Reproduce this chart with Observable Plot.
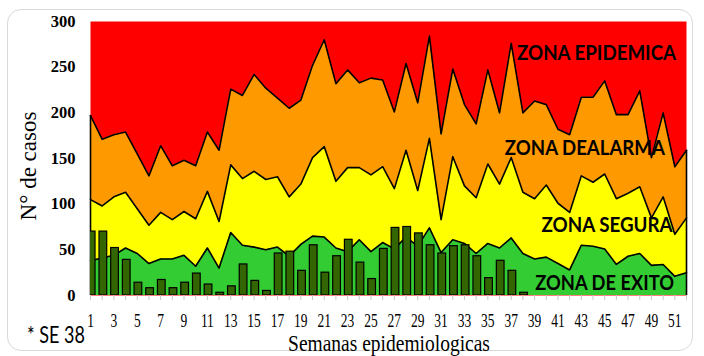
<!DOCTYPE html>
<html><head><meta charset="utf-8">
<script src="https://cdn.jsdelivr.net/npm/d3@7"></script>
<script src="https://cdn.jsdelivr.net/npm/@observablehq/plot@0.6"></script>
<style>
body{margin:0;background:#fff;}
#wrap{position:relative;width:704px;height:356px;overflow:hidden;background:#fff;}
#border{position:absolute;left:7px;top:9px;width:686px;height:342px;border:1.5px solid #d9d9d9;border-radius:14px;box-sizing:border-box;}
#ylab{position:absolute;left:29px;top:166px;transform:translate(-50%,-50%) rotate(-90deg);white-space:nowrap;font:23px "Liberation Serif",serif;color:#000;}
#wrap svg{position:absolute;left:0;top:0;}
</style></head><body><div id="wrap"><div id="border"></div><div id="ylab">N° de casos</div></div>
<script>
const weeks = [1,2,3,4,5,6,7,8,9,10,11,12,13,14,15,16,17,18,19,20,21,22,23,24,25,26,27,28,29,30,31,32,33,34,35,36,37,38,39,40,41,42,43,44,45,46,47,48,49,50,51,52];
const xTickLabels = [1,3,5,7,9,11,13,15,17,19,21,23,25,27,29,31,33,35,37,39,41,43,45,47,49,51];
const yTickLabels = [0,50,100,150,200,250,300];
// upper limit of "zona de alarma"
const alarma = [197,171,176,179,155,131,164,142,148,142,179,159,226,219,242,227,216,205,214,252,280,232,247,233,238,236,201,254,211,284,177,248,209,188,247,200,276,200,213,209,182,176,217,217,235,198,198,224,151,200,141,159];
// upper limit of "zona segura"
const segura = [105,98,108,113,95,77,91,83,92,84,114,81,143,128,136,127,130,108,122,151,163,125,140,140,132,141,117,159,115,172,83,152,120,107,144,122,151,113,106,121,101,91,131,124,133,106,112,119,85,108,67,85];
// upper limit of "zona de exito"
const exito = [38,41,44,52,46,35,40,40,44,32,52,30,69,55,53,50,53,43,56,65,64,52,48,61,48,58,51,64,54,74,47,61,57,46,57,52,63,46,40,42,35,28,55,54,51,34,43,46,33,34,21,25];
// observed cases up to SE 38
const casos = [70,70,52,39,14,8,17,8,14,24,12,3,10,34,16,5,46,48,27,55,25,43,61,36,18,51,74,75,68,55,46,54,55,43,19,38,27,3];
const zoneLabels = ["ZONA EPIDEMICA","ZONA DEALARMA","ZONA SEGURA","ZONA DE EXITO"];
const zoneWeek = [44.3,43.3,45.2,45];
const zoneValue = [265.5,161,76.6,13.7];
const zoneTextWidth = [159,160,131,139];

const rows = weeks.map((w,i)=>({week:w, alarma:alarma[i], segura:segura[i], exito:exito[i]}));
const caseRows = casos.map((c,i)=>({week:weeks[i], casos:c}));
const zones = zoneLabels.map((l,i)=>({label:l, week:zoneWeek[i], value:zoneValue[i]}));
const edges = [rows[0], rows[rows.length-1]];

const plot = Plot.plot({
  width:704, height:356,
  marginLeft:90, marginRight:18, marginTop:21, marginBottom:61,
  x:{domain:[1,52], label:null},
  y:{domain:[0,300], label:null},
  style:{background:"transparent", overflow:"visible"},
  marks:[
    Plot.frame({fill:"#FF0000"}),
    Plot.areaY(rows,{x:"week", y:"alarma", fill:"#FF9900"}),
    Plot.areaY(rows,{x:"week", y:"segura", fill:"#FFFF00"}),
    Plot.areaY(rows,{x:"week", y:"exito", fill:"#33CC33"}),
    Plot.lineY(rows,{x:"week", y:"alarma", stroke:"#000", strokeWidth:1.6}),
    Plot.lineY(rows,{x:"week", y:"segura", stroke:"#000", strokeWidth:1.6}),
    Plot.lineY(rows,{x:"week", y:"exito", stroke:"#000", strokeWidth:1.6}),
    Plot.ruleX(edges,{x:"week", y1:0, y2:"alarma", stroke:"#000", strokeWidth:1.6}),
    Plot.rectY(caseRows,{x1:d=>d.week-0.23, x2:d=>d.week+0.43, y1:0, y2:"casos", fill:"#336600", stroke:"#000", strokeWidth:1.2, clip:true}),
    Plot.axisY({ticks:yTickLabels, tickSize:0, tickPadding:15, fontWeight:"bold", fontSize:16.5, fontFamily:"Liberation Serif", label:null}),
    Plot.axisX({ticks:weeks, tickSize:5, tickFormat:()=>"", stroke:"#c8c8c8", label:null}),
    Plot.axisX({ticks:xTickLabels, tickSize:0, tickPadding:19, fontSize:13.5, fontFamily:"Liberation Serif", label:null}),
    Plot.text(zones,{x:"week", y:"value", text:"label", fontSize:20.5, fontWeight:"bold", fontFamily:"Lato", fill:"#000", lineAnchor:"middle", textAnchor:"middle"})
  ]
});
document.getElementById("wrap").appendChild(plot);
const svg = d3.select(plot);
// vertically stretched x tick labels, as in the reference
svg.selectAll('g[aria-label="x-axis tick label"] text').each(function(){
  const t = d3.select(this);
  if (t.text() !== "") {
    const tr = t.attr("transform") || "";
    t.attr("transform", tr + " scale(1,1.35)");
  }
});
// condensed zone labels
svg.selectAll('g[aria-label="text"] text').each(function(d,i){
  const t = d3.select(this);
  const k = zoneLabels.indexOf(t.text());
  if (k >= 0) t.attr("textLength", zoneTextWidth[k]).attr("lengthAdjust","spacingAndGlyphs");
});
svg.append("text").attr("x",389).attr("y",351).attr("text-anchor","middle")
  .attr("font-family","Liberation Serif").attr("font-size",19.5)
  .attr("transform","translate(389,351) scale(1,1.15) translate(-389,-351)")
  .text("Semanas epidemiologicas");
svg.append("text").attr("x",27).attr("y",343).attr("text-anchor","start")
  .attr("font-family","Lato").attr("font-size",18)
  .attr("transform","translate(27,343) scale(1,1.25) translate(-27,-343)")
  .text("* SE 38");
</script></body></html>
